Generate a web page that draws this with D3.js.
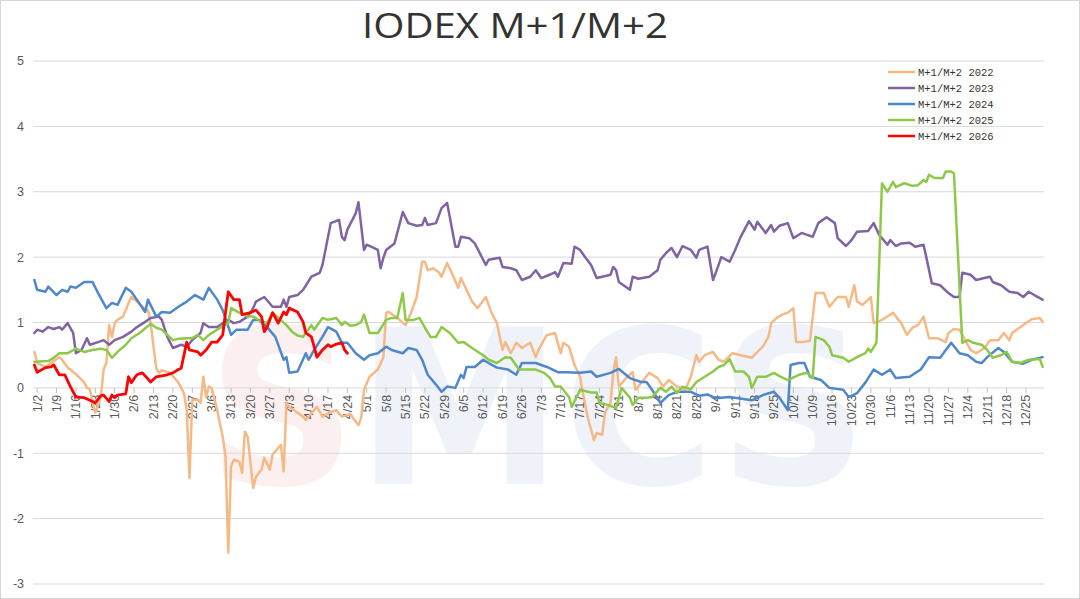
<!DOCTYPE html>
<html><head><meta charset="utf-8">
<script src="https://cdn.jsdelivr.net/npm/d3@7"></script>
<style>html,body{margin:0;padding:0;background:#fff;}svg{display:block;}</style>
</head><body>
<svg id="chart" width="1080" height="599"></svg>
<script>
const title = "IODEX M+1/M+2";
const seriesNames = ["M+1/M+2 2022","M+1/M+2 2023","M+1/M+2 2024","M+1/M+2 2025","M+1/M+2 2026"];
const seriesColors = ["#F5B987","#8064A2","#4F87CA","#8DC84B","#FF0000"];
const yTicks = [-3,-2,-1,0,1,2,3,4,5];

const dates2022 = ["1/1","1/2","1/5","1/7","1/10","1/11","1/13","1/14","1/17","1/19","1/20","1/21","1/23","1/25","1/26","1/27","1/28","1/29","1/30","1/31","2/2","2/3","2/4","2/5","2/7","2/9","2/11","2/12","2/13","2/14","2/15","2/16","2/19","2/22","2/24","2/25","2/26","2/27","3/1","3/2","3/3","3/4","3/5","3/6","3/8","3/10","3/11","3/12","3/13","3/14","3/16","3/17","3/18","3/19","3/21","3/22","3/24","3/25","3/27","3/28","3/31","4/1","4/2","4/3","4/8","4/9","4/12","4/13","4/15","4/18","4/20","4/22","4/25","4/28","4/29","4/30","5/2","5/5","5/7","5/8","5/9","5/12","5/15","5/17","5/19","5/21","5/22","5/23","5/25","5/27","5/28","5/30","6/1","6/3","6/4","6/6","6/8","6/10","6/13","6/15","6/17","6/19","6/20","6/22","6/24","6/26","6/29","7/1","7/2","7/5","7/8","7/10","7/11","7/13","7/15","7/17","7/18","7/20","7/21","7/22","7/23","7/25","7/26","7/28","7/29","7/30","7/31","8/3","8/5","8/6","8/8","8/11","8/14","8/16","8/18","8/21","8/24","8/26","8/28","8/29","8/31","9/3","9/5","9/7","9/10","9/13","9/17","9/19","9/21","9/23","9/24","9/26","9/28","9/30","10/2","10/3","10/5","10/8","10/10","10/13","10/15","10/18","10/21","10/22","10/24","10/25","10/27","10/29","10/30","10/31","11/3","11/7","11/9","11/10","11/12","11/14","11/16","11/18","11/20","11/23","11/26","11/27","11/29","12/1","12/3","12/5","12/7","12/10","12/12","12/15","12/17","12/19","12/20","12/23","12/25","12/27","12/30","12/31"];
const values2022 = [0.55,0.38,0.32,0.38,0.47,0.43,0.31,0.28,0.17,0.08,0.0,-0.02,-0.38,-0.14,0.28,0.38,0.96,0.78,0.99,1.04,1.09,1.19,1.30,1.39,1.32,1.24,1.19,0.99,0.63,0.30,0.23,0.27,0.23,0.08,-0.08,-0.34,-1.38,-0.18,-0.18,-0.23,0.17,-0.14,0.02,0.0,-0.34,-0.75,-1.05,-2.52,-1.20,-1.10,-1.13,-1.30,-0.67,-0.75,-1.53,-1.36,-1.25,-1.07,-1.25,-1.02,-0.87,-1.28,-0.23,-0.29,-0.44,-0.49,-0.34,-0.29,-0.44,-0.37,-0.34,-0.44,-0.40,-0.57,-0.45,-0.03,0.17,0.28,0.47,1.15,1.16,1.07,0.96,1.15,1.39,1.93,1.93,1.80,1.83,1.77,1.70,1.91,1.73,1.53,1.68,1.50,1.32,1.22,1.39,1.15,0.99,0.58,0.70,0.53,0.69,0.61,0.69,0.47,0.58,0.81,0.84,0.53,0.69,0.63,0.35,0.17,-0.08,-0.49,-0.64,-0.80,-0.69,-0.72,-0.38,-0.23,0.24,0.47,0.02,0.17,0.24,-0.03,0.07,0.23,0.15,0.02,0.12,0.02,-0.03,0.17,0.50,0.40,0.50,0.55,0.43,0.40,0.53,0.50,0.46,0.55,0.63,0.78,0.99,1.07,1.12,1.15,1.22,0.70,0.70,0.72,1.45,1.45,1.24,1.39,1.39,1.24,1.57,1.32,1.27,1.35,1.39,0.99,1.04,1.15,1.04,0.99,0.81,0.92,0.96,1.09,0.76,0.76,0.70,0.84,0.90,0.89,0.73,0.58,0.53,0.61,0.73,0.73,0.84,0.73,0.84,0.93,0.99,1.05,1.07,1.01];

const dates2023 = ["1/1","1/2","1/4","1/6","1/8","1/10","1/11","1/13","1/15","1/16","1/18","1/20","1/21","1/24","1/26","1/28","1/30","2/2","2/5","2/7","2/10","2/12","2/15","2/16","2/18","2/20","2/23","2/25","2/27","3/2","3/3","3/5","3/8","3/10","3/12","3/14","3/16","3/19","3/21","3/22","3/25","3/28","3/31","4/1","4/2","4/3","4/6","4/8","4/11","4/14","4/15","4/18","4/21","4/22","4/23","4/24","4/27","4/28","4/30","5/1","5/5","5/6","5/7","5/8","5/11","5/14","5/16","5/19","5/21","5/22","5/23","5/26","5/28","5/30","6/2","6/3","6/4","6/7","6/9","6/13","6/14","6/18","6/19","6/22","6/24","6/26","6/29","7/1","7/3","7/6","7/8","7/9","7/11","7/14","7/15","7/17","7/19","7/21","7/23","7/25","7/28","7/29","7/30","7/31","8/4","8/5","8/7","8/11","8/14","8/15","8/17","8/19","8/21","8/23","8/26","8/28","8/29","9/1","9/3","9/4","9/6","9/9","9/11","9/13","9/16","9/18","9/19","9/22","9/24","9/25","9/27","9/30","10/2","10/5","10/9","10/11","10/14","10/17","10/18","10/21","10/23","10/25","10/29","10/31","11/2","11/5","11/6","11/8","11/10","11/13","11/15","11/18","11/19","11/21","11/24","11/27","11/29","12/1","12/2","12/5","12/7","12/10","12/12","12/13","12/16","12/19","12/22","12/24","12/26","12/28","12/31"];
const values2023 = [0.84,0.89,0.86,0.93,0.90,0.93,0.89,0.99,0.84,0.53,0.58,0.76,0.66,0.70,0.73,0.66,0.73,0.78,0.86,0.93,1.01,1.07,1.09,1.04,0.78,0.61,0.66,0.63,0.73,0.84,0.99,0.93,0.93,0.99,1.04,0.99,1.01,1.09,1.22,1.32,1.39,1.24,1.24,1.35,1.24,1.39,1.42,1.50,1.70,1.76,1.88,2.52,2.57,2.31,2.26,2.42,2.67,2.84,2.11,2.19,2.11,1.83,1.99,2.11,2.21,2.69,2.52,2.48,2.49,2.60,2.49,2.52,2.75,2.83,2.16,2.16,2.31,2.29,2.21,1.88,1.96,1.99,1.85,1.83,1.80,1.65,1.70,1.80,1.68,1.73,1.77,1.70,1.91,1.90,2.16,2.11,1.99,1.88,1.68,1.70,1.73,1.85,1.80,1.62,1.50,1.70,1.67,1.70,1.80,1.96,2.06,2.14,2.00,2.17,2.11,1.99,2.11,2.16,1.65,1.76,2.00,1.93,2.11,2.31,2.55,2.42,2.54,2.37,2.49,2.39,2.48,2.52,2.29,2.37,2.31,2.52,2.61,2.52,2.29,2.17,2.26,2.39,2.40,2.52,2.34,2.19,2.26,2.17,2.21,2.22,2.16,2.19,2.00,1.60,1.57,1.45,1.39,1.39,1.76,1.73,1.65,1.68,1.70,1.62,1.57,1.47,1.45,1.39,1.47,1.42,1.35];

const dates2024 = ["1/1","1/2","1/5","1/6","1/9","1/11","1/13","1/14","1/16","1/19","1/22","1/24","1/27","1/29","1/31","2/3","2/5","2/7","2/10","2/11","2/14","2/16","2/19","2/22","2/25","2/28","3/3","3/5","3/8","3/10","3/13","3/15","3/19","3/21","3/23","3/26","3/29","4/1","4/2","4/3","4/6","4/9","4/10","4/12","4/15","4/17","4/20","4/22","4/24","4/27","4/30","5/2","5/5","5/8","5/10","5/14","5/16","5/19","5/21","5/23","5/26","5/28","5/30","6/2","6/4","6/5","6/6","6/9","6/12","6/14","6/17","6/21","6/24","6/26","7/1","7/5","7/9","7/12","7/17","7/21","7/23","7/28","7/31","8/4","8/8","8/10","8/12","8/15","8/18","8/21","8/26","8/29","9/1","9/4","9/9","9/14","9/17","9/21","9/25","9/27","9/30","10/1","10/4","10/6","10/8","10/12","10/15","10/20","10/22","10/25","10/28","10/31","11/3","11/6","11/8","11/13","11/17","11/20","11/24","11/28","12/1","12/4","12/7","12/9","12/11","12/15","12/17","12/20","12/24","12/27","12/31"];
const values2024 = [1.65,1.50,1.47,1.55,1.42,1.50,1.47,1.55,1.53,1.62,1.62,1.45,1.22,1.30,1.27,1.53,1.47,1.35,1.16,1.35,1.09,1.16,1.15,1.24,1.32,1.42,1.35,1.53,1.35,1.19,0.81,0.89,0.89,1.04,1.04,0.93,0.78,0.43,0.47,0.23,0.25,0.53,0.43,0.58,0.78,0.93,0.86,0.69,0.69,0.53,0.43,0.50,0.53,0.63,0.58,0.53,0.61,0.58,0.43,0.20,0.05,-0.06,0.02,0.0,0.20,0.15,0.32,0.32,0.43,0.38,0.31,0.28,0.20,0.38,0.38,0.32,0.24,0.24,0.23,0.25,0.17,0.23,0.29,0.15,0.09,0.09,-0.03,-0.23,-0.11,-0.06,-0.06,-0.12,-0.10,-0.16,-0.14,-0.17,-0.19,-0.11,-0.06,-0.15,-0.34,0.35,0.38,0.38,0.17,0.12,0.0,-0.03,-0.14,-0.08,0.08,0.28,0.20,0.28,0.15,0.17,0.28,0.47,0.46,0.69,0.53,0.50,0.40,0.38,0.47,0.61,0.55,0.40,0.37,0.43,0.47];

const dates2025 = ["1/1","1/6","1/8","1/10","1/13","1/16","1/19","1/22","1/25","1/27","1/29","1/31","2/3","2/5","2/8","2/12","2/14","2/16","2/18","2/20","2/22","2/25","2/27","3/1","3/3","3/5","3/8","3/12","3/13","3/16","3/19","3/21","3/23","3/26","3/28","3/30","4/2","4/4","4/6","4/8","4/11","4/12","4/15","4/17","4/20","4/22","4/23","4/25","4/27","4/29","4/30","5/2","5/5","5/8","5/10","5/12","5/14","5/15","5/18","5/20","5/22","5/24","5/26","5/28","5/31","6/3","6/5","6/8","6/12","6/14","6/17","6/20","6/22","6/25","6/28","7/1","7/4","7/6","7/8","7/10","7/13","7/14","7/17","7/21","7/23","7/24","7/27","7/30","8/1","8/4","8/5","8/7","8/10","8/12","8/15","8/17","8/19","8/21","8/23","8/26","8/28","8/31","9/3","9/5","9/7","9/9","9/11","9/14","9/16","9/17","9/19","9/22","9/25","9/27","9/30","10/4","10/7","10/9","10/10","10/13","10/15","10/16","10/20","10/22","10/25","10/28","10/29","10/30","11/1","11/3","11/5","11/7","11/8","11/11","11/14","11/16","11/18","11/19","11/20","11/22","11/25","11/26","11/28","11/29","12/2","12/4","12/6","12/9","12/11","12/13","12/16","12/18","12/20","12/23","12/26","12/30","12/31"];
const values2025 = [0.40,0.41,0.46,0.53,0.53,0.60,0.55,0.58,0.60,0.58,0.46,0.55,0.66,0.76,0.84,0.98,0.92,0.89,0.81,0.73,0.75,0.76,0.76,0.81,0.73,0.81,0.89,0.99,1.22,1.15,1.09,1.09,1.04,0.99,1.15,1.07,0.96,0.86,0.80,0.78,0.96,0.89,1.07,1.04,1.07,0.96,1.01,0.95,0.96,1.01,1.12,0.84,0.84,1.04,1.07,1.07,1.45,1.04,1.04,1.07,0.92,0.78,0.78,0.93,0.84,0.69,0.70,0.61,0.50,0.43,0.38,0.47,0.46,0.28,0.28,0.28,0.23,0.16,0.02,0.02,-0.14,-0.29,-0.03,-0.07,-0.07,-0.23,-0.26,-0.31,0.0,-0.15,-0.26,-0.15,-0.15,-0.14,0.0,-0.06,0.02,-0.08,0.02,-0.02,0.09,0.17,0.25,0.32,0.35,0.44,0.25,0.25,0.17,0.0,0.17,0.17,0.23,0.18,0.12,0.20,0.23,0.15,0.78,0.73,0.63,0.50,0.46,0.40,0.47,0.53,0.60,0.55,0.69,3.13,3.00,3.15,3.07,3.13,3.09,3.10,3.18,3.15,3.26,3.21,3.21,3.31,3.31,3.28,0.69,0.73,0.69,0.66,0.58,0.46,0.50,0.55,0.40,0.38,0.43,0.44,0.32];

const dates2026 = ["1/1","1/2","1/5","1/7","1/8","1/10","1/12","1/14","1/16","1/19","1/22","1/23","1/25","1/26","1/28","1/29","1/30","1/31","2/3","2/4","2/5","2/7","2/9","2/12","2/14","2/18","2/20","2/22","2/23","2/25","2/26","3/1","3/2","3/4","3/6","3/8","3/10","3/11","3/12","3/14","3/16","3/17","3/20","3/22","3/24","3/25","3/26","3/28","3/30","4/1","4/2","4/3","4/6","4/8","4/9","4/11","4/12","4/13","4/15","4/17","4/18","4/20","4/22","4/23","4/24"];
const values2026 = [0.35,0.24,0.31,0.32,0.35,0.20,0.20,0.02,-0.14,-0.15,-0.21,-0.23,-0.12,-0.11,-0.21,-0.11,-0.15,-0.11,-0.09,0.17,0.08,0.20,0.23,0.09,0.17,0.20,0.23,0.28,0.30,0.70,0.58,0.55,0.50,0.58,0.70,0.70,0.81,1.15,1.47,1.35,1.35,1.12,1.15,1.19,1.09,0.86,0.93,1.15,0.99,1.16,1.12,1.22,1.16,1.01,0.84,0.78,0.63,0.47,0.58,0.66,0.63,0.67,0.69,0.58,0.53];

const seriesDates = [dates2022,dates2023,dates2024,dates2025,dates2026];
const seriesValues = [values2022,values2023,values2024,values2025,values2026];

// category axis: every calendar day (non-leap year), labels "m/d"
const allDays = d3.timeDay.range(new Date(2023,0,1), new Date(2024,0,1)).map(d => (d.getMonth()+1)+"/"+d.getDate());
const tickLabels = allDays.filter((d,i) => i % 7 === 1);

(function draw(){
const svg = d3.select("#chart");
const W = 1080, H = 599;
const pL = 33, pR = 1044, pT = 61, pB = 584;

svg.append("rect").attr("x",0.5).attr("y",0.5).attr("width",W-1).attr("height",H-1)
  .attr("fill","#fff").attr("stroke","#d6d6d6");

const x = d3.scalePoint().domain(allDays).range([pL, pR]).padding(0.5);
const y = d3.scaleLinear().domain([-3,5]).range([pB, pT]);

// watermark (faint logo)
const wm = svg.append("text").attr("x",207).attr("y",484)
  .attr("font-family","DejaVu Sans").attr("font-weight","bold").attr("font-size",215)
  .attr("textLength",661).attr("lengthAdjust","spacingAndGlyphs").attr("opacity",0.16);
wm.append("tspan").attr("fill","#eaa0a0").text("S");
wm.append("tspan").attr("fill","#9fb8de").text("MCS");

// gridlines
svg.append("g").selectAll("line").data(yTicks).join("line")
  .attr("x1",pL).attr("x2",pR).attr("y1",d=>y(d)).attr("y2",d=>y(d))
  .attr("stroke","#d9d9d9").attr("stroke-width",1);

// y labels
svg.append("g").selectAll("text").data(yTicks).join("text")
  .attr("x",24).attr("y",d=>y(d)).attr("dy","0.35em").attr("text-anchor","end")
  .attr("font-family","Liberation Sans, Arial, sans-serif").attr("font-size",12.5).attr("fill","#595959")
  .text(d=>String(d));

// x axis ticks + labels at zero line
const xg = svg.append("g");
xg.selectAll("line").data(tickLabels).join("line")
  .attr("x1",d=>x(d)).attr("x2",d=>x(d)).attr("y1",y(0)).attr("y2",y(0)+5)
  .attr("stroke","#bfbfbf").attr("stroke-width",1);
xg.selectAll("text").data(tickLabels).join("text")
  .attr("transform",d=>`translate(${x(d)},${y(0)+7}) rotate(-90)`)
  .attr("dy","0.35em").attr("text-anchor","end")
  .attr("font-family","Liberation Sans, Arial, sans-serif").attr("font-size",12.5).attr("fill","#595959")
  .text(d=>d);

// lines
const line = d3.line().x(d=>x(d[0])).y(d=>y(d[1])).curve(d3.curveLinear);
seriesNames.forEach((name,i) => {
  const pts = seriesDates[i].map((d,j) => [d, seriesValues[i][j]]);
  svg.append("path").datum(pts).attr("d",line).attr("fill","none")
    .attr("stroke",seriesColors[i]).attr("stroke-width", i===4 ? 2.8 : 2.5)
    .attr("stroke-linejoin","round").attr("stroke-linecap","round");
});

// title
svg.append("text").attr("x",362).attr("y",38)
  .attr("font-family","Open Sans, Noto Sans, sans-serif").attr("font-size",35).attr("fill","#333")
  .attr("textLength",306).attr("lengthAdjust","spacingAndGlyphs").text(title);

// legend
const lg = svg.append("g").selectAll("g").data(seriesNames).join("g")
  .attr("transform",(d,i)=>`translate(888,${72+i*16})`);
lg.append("line").attr("x1",0).attr("x2",27).attr("y1",0).attr("y2",0)
  .attr("stroke",(d,i)=>seriesColors[i]).attr("stroke-width",2.5);
lg.append("text").attr("x",30).attr("y",0).attr("dy","0.35em")
  .attr("font-family","Liberation Mono, DejaVu Sans Mono, monospace").attr("font-size",10.5).attr("fill","#333")
  .text(d=>d);
})();
</script>
</body></html>
